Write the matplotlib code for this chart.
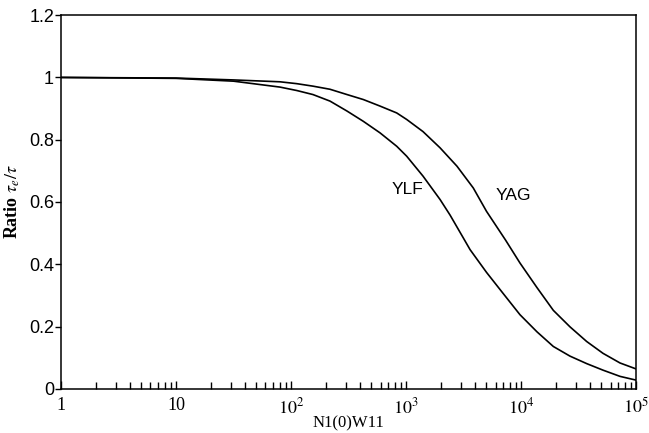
import numpy as np
import matplotlib.pyplot as plt

plt.rcParams['mathtext.fontset'] = 'stix'

# log10 of N1(0)W11 and the lifetime ratio
ylf_logx = [0.0, 1.0, 1.5, 1.904, 2.05, 2.191, 2.339, 2.487, 2.629, 2.774, 2.919, 3.006,
            3.148, 3.296, 3.383, 3.496, 3.557, 3.70, 3.843, 3.991, 4.139, 4.281, 4.426,
            4.571, 4.713, 4.861, 5.0]
ylf_ratio = [1.0, 0.997, 0.988, 0.969, 0.958, 0.945, 0.924, 0.892, 0.859, 0.822, 0.779, 0.747,
             0.683, 0.608, 0.558, 0.486, 0.447, 0.374, 0.307, 0.238, 0.183, 0.136, 0.105,
             0.081, 0.060, 0.040, 0.028]

yag_logx = [0.0, 1.0, 1.5, 1.904, 2.05, 2.191, 2.339, 2.487, 2.629, 2.774, 2.919, 3.006,
            3.148, 3.296, 3.443, 3.585, 3.70, 3.865, 3.991, 4.139, 4.281, 4.426, 4.571,
            4.713, 4.861, 5.0]
yag_ratio = [1.0, 0.998, 0.992, 0.986, 0.980, 0.972, 0.962, 0.945, 0.929, 0.908, 0.886, 0.865,
             0.826, 0.774, 0.715, 0.645, 0.570, 0.478, 0.404, 0.325, 0.252, 0.199, 0.152,
             0.114, 0.083, 0.064]

xtick_vals = [1, 10, 1e2, 1e3, 1e4, 1e5]
xtick_labels = ['1', '10', r'$10^2$', r'$10^3$', r'$10^4$', r'$10^5$']
ytick_vals = [0, 0.2, 0.4, 0.6, 0.8, 1, 1.2]
ytick_labels = ['0', '0.2', '0.4', '0.6', '0.8', '1', '1.2']

fig = plt.figure(figsize=(6.49, 4.33), dpi=100)
ax = fig.add_axes([0.094, 0.102, 0.886, 0.863])

ax.plot(10 ** np.array(ylf_logx), ylf_ratio, color='black', lw=1.2)
ax.plot(10 ** np.array(yag_logx), yag_ratio, color='black', lw=1.2)

ax.set_xscale('log')
ax.set_xlim(1, 1e5)
ax.set_ylim(0, 1.2)

ax.set_xticks(xtick_vals)
ax.set_xticklabels(xtick_labels, fontfamily='Liberation Serif', fontsize=13)
ax.set_yticks(ytick_vals)
ax.set_yticklabels(ytick_labels, fontfamily='Liberation Sans', fontsize=13)
ax.tick_params(axis='x', which='major', direction='in', length=6, width=1, pad=6)
ax.tick_params(axis='x', which='minor', direction='in', length=5, width=1)
ax.tick_params(axis='y', direction='out', length=4, width=1, pad=1)

for s in ax.spines.values():
    s.set_linewidth(1.1)

ax.text(1020, 0.64, 'YLF', fontfamily='Liberation Sans', fontsize=12.5, ha='center', va='center')
ax.text(8500, 0.62, 'YAG', fontfamily='Liberation Sans', fontsize=12.5, ha='center', va='center')

ax.set_xlabel('N1(0)W11', fontfamily='Liberation Serif', fontsize=12, labelpad=-1)
ax.set_ylabel(r'Ratio $\tau_e/\tau$', fontfamily='Liberation Serif', fontweight='bold', fontsize=13, labelpad=5)

fig.savefig('out.png', dpi=100)
